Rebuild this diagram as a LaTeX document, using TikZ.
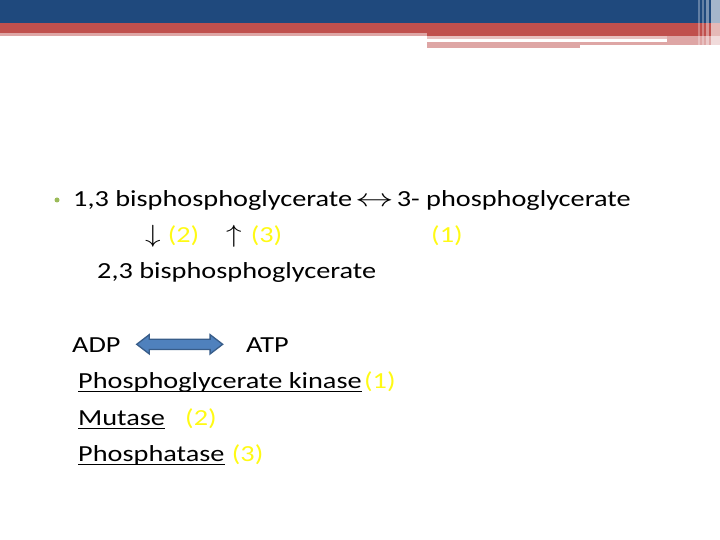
\documentclass[tikz,border=0pt]{standalone}
\usepackage{fontspec}
\setmainfont{Carlito}[FakeStretch=1.23]
\usetikzlibrary{shapes.arrows}

\definecolor{slideblue}{RGB}{31,73,125}
\definecolor{slidered}{RGB}{192,80,77}
\definecolor{slidepink}{RGB}{222,166,165}
\definecolor{bulletgreen}{RGB}{155,187,89}
\definecolor{hilite}{RGB}{255,250,20}
\definecolor{arrowfill}{RGB}{79,129,189}
\definecolor{arrowline}{RGB}{56,93,138}

\newcommand{\widemath}[2][1.25]{\scalebox{#1}[1]{$#2$}}

\begin{document}
\begin{tikzpicture}[x=1pt, y=-1pt,
    txt/.style={anchor=base west, inner sep=0pt, font=\fontsize{23}{28}\selectfont},
    uline/.style={line width=1.7pt}]

    \useasboundingbox (0,0) rectangle (720,540);

    % ================= HEADER BANDS =================
    \fill[slideblue] (0,0) rectangle (720,23);
    \fill[slidered]  (0,23) rectangle (720,33);
    \fill[slidepink] (0,33) rectangle (427,36);
    \fill[slidered]  (427,33) rectangle (720,36);
    \fill[slidepink!70] (427,36) rectangle (667,39);
    \fill[slidepink] (427,42) rectangle (580,48);
    \fill[slidepink] (580,42) rectangle (667,45);
    \fill[slidepink] (667,36) rectangle (720,45);
    % light stripes on the right edge
    \foreach \a/\b/\o in {698/700/0.3, 702/704/0.3, 706/709/0.4, 711/720/0.6}
        \fill[white, opacity=\o] (\a,0) rectangle (\b,48);

    % ================= REACTIONS =================
    % 1. Bullet and first line
    \node[circle, fill=bulletgreen, inner sep=0pt, minimum size=5pt] (dot) at (57,200) {};
    \node[txt] (bpg13) at (73,207) {1,3 bisphosphoglycerate\hspace{3pt}\widemath[1.55]{\leftrightarrow}\hspace{3pt}3- phosphoglycerate};

    % 2. Enzyme numbers under the reactions
    \node[txt] (down) at (145,243) {\widemath{\downarrow}\hspace{7pt}\textcolor{hilite}{(2)}};
    \node[txt] (up)   at (226,243) {\widemath{\uparrow}\hspace{9pt}\textcolor{hilite}{(3)}};
    \node[txt, text=hilite] (one) at (431,243) {(1)};

    % 3. Product of the mutase
    \node[txt] (bpg23) at (97,278) {2,3 bisphosphoglycerate};

    % ================= ADP / ATP =================
    \node[txt] (adp) at (72,352) {ADP};
    \node[txt] (atp) at (246,352) {ATP};
    \node[double arrow, fill=arrowfill, draw=arrowline, line width=1.3pt,
          inner sep=0pt, minimum height=86pt, minimum width=19pt,
          double arrow head extend=4.5pt, double arrow tip angle=75,
          text height=9pt] (swap) at (179.7,344.3) {};

    % ================= ENZYMES =================
    \node[txt] (pgk) at (78,388) {Phosphoglycerate kinase\hspace{5pt}};
    \node[txt, text=hilite] (pgkn) at ([xshift=2pt]pgk.base east) {(1)};
    \node[txt] (mut) at (78,425) {Mutase};
    \node[txt, text=hilite] (mutn) at (185,425) {(2)};
    \node[txt] (pho) at (78,461) {Phosphatase};
    \node[txt, text=hilite] (phon) at ([xshift=7pt]pho.base east) {(3)};

    % underlines
    \foreach \n in {pgk, mut, pho}
        \draw[uline] ([yshift=-3.5pt]\n.base west) -- ([yshift=-3.5pt]\n.base east);

\end{tikzpicture}
\end{document}
